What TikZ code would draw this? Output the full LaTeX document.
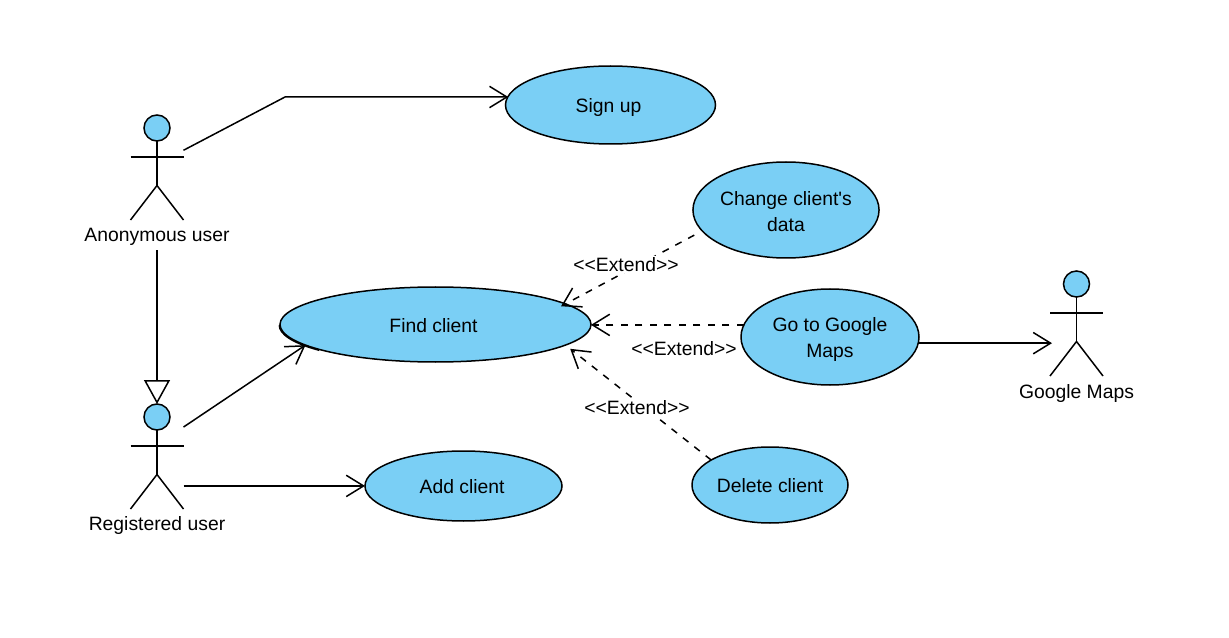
\documentclass[tikz,border=0pt]{standalone}
\usepackage{fontspec}
\setmainfont{Liberation Sans}[Ligatures=TeXOff]
\usetikzlibrary{shapes.geometric,arrows.meta}
\definecolor{ucfill}{HTML}{7ACFF5}
\def\px{0.75pt}
\newcommand{\dn}[1]{\rule{0pt}{#1pt}}
\tikzset{
  ucase/.style={ellipse,draw=black,fill=ucfill,line width=1.5*\px,inner sep=0pt,outer sep=0pt,align=center},
  actorbox/.style={rectangle,inner sep=0pt,outer sep=0pt,minimum width=53*\px,minimum height=105*\px},
  actorhead/.style={circle,draw=black,fill=ucfill,line width=1.5*\px,inner sep=0pt,outer sep=0pt,minimum size=26*\px},
  actorlabel/.style={inner sep=0pt,outer sep=0pt},
  ln/.style={draw=black,line width=1.5*\px},
  assoc/.style={ln,-{Straight Barb[length=13pt,width=16pt,line width=1.5*\px]}},
  ext/.style={ln,dash pattern=on 7*\px off 7.5*\px,-{Straight Barb[length=13pt,width=16pt,line width=1.5*\px]}},
  gen/.style={ln,-{Triangle[open,length=24*\px,width=26*\px,line width=1.5*\px,fill=white]}},
  extlabel/.style={fill=white,inner xsep=0pt,inner ysep=1pt},
}
% \umlactor{name}{x centre}{y top of head}{label}{label y}
\newcommand{\umlactor}[5]{%
  \node[actorbox] (#1) at (#2,#3+52.5) {};
  \node[actorhead] (#1head) at (#2,#3+13) {};
  \coordinate (#1crotch) at (#2,#3+70.5);
  \coordinate (#1larm) at (#2-26.5,#3+42);
  \coordinate (#1rarm) at (#2+26.5,#3+42);
  \coordinate (#1lfoot) at (#2-26.5,#3+105);
  \coordinate (#1rfoot) at (#2+26.5,#3+105);
  \draw[ln] (#1head.south) -- (#1crotch);
  \draw[ln] (#1larm) -- (#1rarm);
  \draw[ln] (#1lfoot) -- (#1crotch) -- (#1rfoot);
  \node[actorlabel] (#1label) at (#2,#5) {#4};
}
\begin{document}
\begin{tikzpicture}[x=\px,y=-\px,every node/.append style={font=\fontsize{14.5}{19.5}\selectfont}]
\useasboundingbox[fill=white] (0,0) rectangle (1229,638);
\umlactor{anon}{157}{115}{Anonymous user}{236.5}
\umlactor{reg}{157}{404}{Registered user}{525}
\umlactor{maps}{1076.5}{271}{Google Maps}{393.5}

\node[ucase,minimum width=210*\px,minimum height=78*\px] (signup) at (610.5,105) {\dn{15}\hspace*{-3pt}Sign up};
\node[ucase,minimum width=186*\px,minimum height=96*\px] (change) at (786,210) {\dn{13.5}Change client's\\data};
\node[ucase,minimum width=311*\px,minimum height=75*\px] (find) at (435.5,324.5) {\dn{12}\hspace*{-3pt}Find client};
\node[ucase,minimum width=178*\px,minimum height=96*\px] (go) at (830,337) {\dn{15}Go to Google\\Maps};
\node[ucase,minimum width=156*\px,minimum height=76*\px] (del) at (770,485) {\dn{12}Delete client};
\node[ucase,minimum width=197*\px,minimum height=70*\px] (add) at (463.5,486) {\dn{12}\hspace*{-2pt}Add client};
\draw[ln] ([shift={(-0.7,0.7)}]find.180) arc[start angle=180,end angle=222,x radius=155.5*\px,y radius=37.5*\px];

\coordinate (bend) at (285,97);
\draw[assoc] (anon.33.4) -- (bend) -- (bend -| signup.175.5);
\draw[gen] (anonlabel.south) ++(0,5) -- (reghead.north);
\draw[assoc] (reg.48.3) -- (find.189.7);
\draw[assoc] (reg.-48.8) -- (reg.-48.8 -| add.west);
\draw[assoc,shorten >=-2*\px] (go.-4.5) -- (go.-4.5 -| maps.west);
\draw[ext,shorten <=9*\px,shorten >=-5*\px] (change.194) -- (find.9);
\draw[ext] (go.172) -- (go.172 -| find.east);
\draw[ext,shorten >=6*\px] (del.157.6) -- (find.-9);
\node[extlabel] (ext1) at (626,264.5) {<<Extend>>};
\node[extlabel,fill=none] (ext2) at (684,348.5) {<<Extend>>};
\node[extlabel] (ext3) at (637,407.5) {<<Extend>>};
\end{tikzpicture}
\end{document}
